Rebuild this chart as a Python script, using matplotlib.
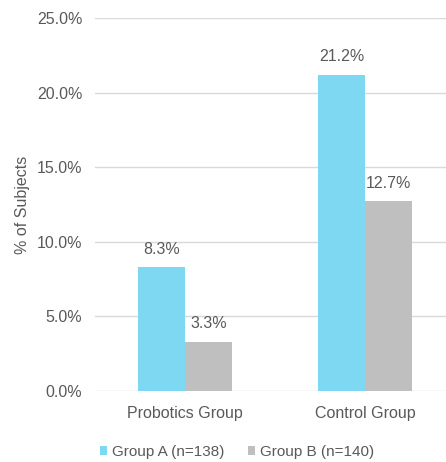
import numpy as np
import matplotlib
matplotlib.use("Agg")
import matplotlib.pyplot as plt
from matplotlib.ticker import FuncFormatter

categories = ["Probotics Group", "Control Group"]
group_a = [8.3, 21.2]
group_b = [3.3, 12.7]
series_names = ["Group A (n=138)", "Group B (n=140)"]

plt.rcParams["font.family"] = ["Liberation Sans", "DejaVu Sans"]
text_color = "#595959"
fs = 11.5

fig = plt.figure(figsize=(4.46, 4.62), dpi=100)
ax = fig.add_axes([0.213, 0.154, 0.787, 0.807])

x = np.arange(len(categories))
width = 0.26

bars_a = ax.bar(x - width / 2, group_a, width, color="#7FD8F1", label=series_names[0], zorder=2)
bars_b = ax.bar(x + width / 2, group_b, width, color="#BFBFBF", label=series_names[1], zorder=2)

for bars in (bars_a, bars_b):
    for bar in bars:
        h = bar.get_height()
        ax.annotate(f"{h:.1f}%", (bar.get_x() + bar.get_width() / 2, h),
                    xytext=(0, 7.5), textcoords="offset points",
                    ha="center", va="bottom", fontsize=fs, color=text_color)

ax.set_ylim(0, 25)
ax.set_yticks(np.arange(0, 25.1, 5))
ax.yaxis.set_major_formatter(FuncFormatter(lambda v, p: f"{v:.1f}%"))
ax.set_xlim(-0.5, 1.45)
ax.set_xticks(x)
ax.set_xticklabels(categories)

ax.grid(axis="y", color="#D9D9D9", linewidth=1, zorder=0)
for s in ax.spines.values():
    s.set_visible(False)
ax.tick_params(length=0, labelsize=fs, colors=text_color)
ax.tick_params(axis="y", pad=9)
ax.tick_params(axis="x", pad=11)

ax.set_ylabel("% of Subjects", fontsize=fs, color=text_color, labelpad=5)

ax.legend(loc="center", bbox_to_anchor=(0.405, -0.164), ncol=2, frameon=False,
          fontsize=11, labelcolor=text_color, handlelength=0.45, handleheight=0.45,
          handletextpad=0.35, columnspacing=1.5, borderpad=0)

fig.savefig("out.png", dpi=100)
